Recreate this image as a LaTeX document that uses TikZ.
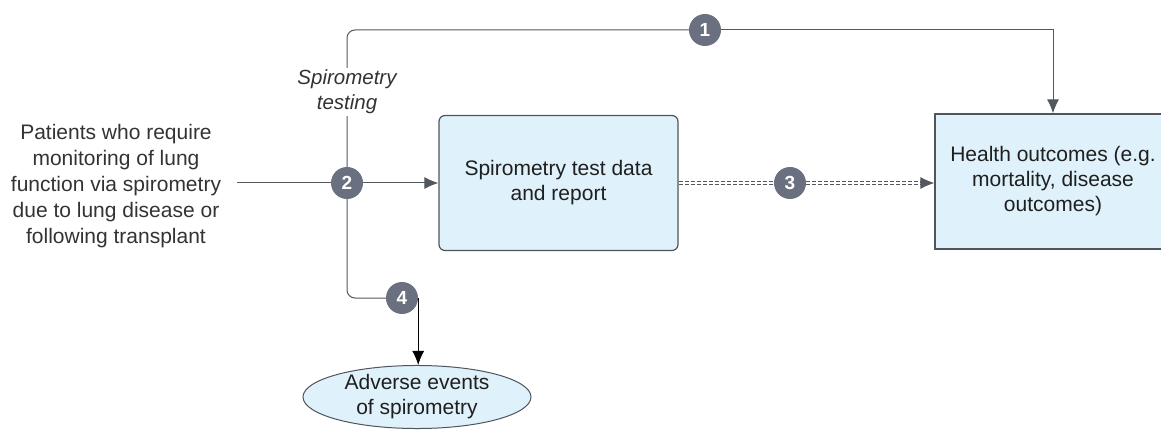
\documentclass[tikz,border=0pt]{standalone}
\usepackage{fontspec}
\setmainfont{Liberation Sans}
\usetikzlibrary{arrows.meta,positioning,shapes.geometric,backgrounds}

\definecolor{boxfill}{HTML}{DFF1FB}
\definecolor{boxline}{HTML}{50555C}
\definecolor{numfill}{HTML}{6B7080}
\definecolor{txtgray}{HTML}{333333}
\definecolor{wiregray}{HTML}{53585F}

\begin{document}
\begin{tikzpicture}[x=1pt,y=-1pt,
box/.style={
		draw=boxline,
		fill=boxfill,
		line width=1.2pt,
		minimum height=135pt,
		align=center,
		text=black!88,
		font=\fontsize{21}{25}\selectfont,
		},
num/.style={
		circle,
		fill=numfill,
		text=white,
		minimum size=32pt,
		inner sep=0pt,
		font=\fontsize{19}{19}\selectfont\bfseries,
		},
wire/.style={draw=wiregray, line width=1pt},
dbl/.style={draw=wiregray, line width=0.8pt, double=white, double distance=2pt, dash pattern=on 4pt off 2pt},
tip/.style={-{Latex[length=14pt,width=12pt]}}
]
\useasboundingbox (0,0) rectangle (1161,446);

\def \midy {183}
\def \splitx {347}
\def \topy {30}

% input and boxes
\node[align=center, text=txtgray, inner xsep=16pt, font=\fontsize{21}{26}\selectfont] (patients) at (116,186)
  {Patients who require\\monitoring of lung\\function via spirometry\\due to lung disease or\\following transplant};
\node[box, rounded corners=6pt, minimum width=239pt] (report) at (558.5,\midy) {Spirometry test data\\and report};
\node[box, minimum width=236pt] (health) at (1053,181.5) {Health outcomes (e.g.\\mortality, disease\\outcomes)};
\node[ellipse, draw=boxline, fill=boxfill, line width=1pt, minimum width=228pt, minimum height=50pt, inner sep=0pt,
  align=center, text=black!88, font=\fontsize{21}{25}\selectfont] (adverse) at (417,397) {Adverse events\\of spirometry};

% numbered markers
\node[num] (n1) at (705,\topy) {1};
\node[num] (n2) at (\splitx,\midy) {2};
\node[num] (n3) at (790,\midy) {3};
\node[num] (n4) at (402,298) {4};

\begin{scope}[on background layer]
\draw[wire] (patients.east |- n2) -- (n2.west);
\draw[wire, tip] (n2.east) -- (report.west);
\draw[wire, rounded corners=8pt] (n2.north) |- (n1.west);
\draw[wire, tip] (n1.east) -| (health.north);
\draw[wire, rounded corners=8pt] (n2.south) |- (n4.west);
\draw[dbl] (report.east |- n3) -- (n3.west);
\draw[dbl, shorten >=13pt] (n3.east) -- (n3.east -| health.west);
\end{scope}
\draw[wire, tip] ([xshift=-14pt]n3.east -| health.west) -- (n3.east -| health.west);
\draw[black, line width=1pt, tip] (n4.east) -- (n4.east |- adverse.north);

\node[fill=white, align=center, text=txtgray, inner sep=2pt, font=\fontsize{20.5}{25}\selectfont\itshape] (testing) at (\splitx,92)
  {Spirometry\\testing};
\end{tikzpicture}
\end{document}
